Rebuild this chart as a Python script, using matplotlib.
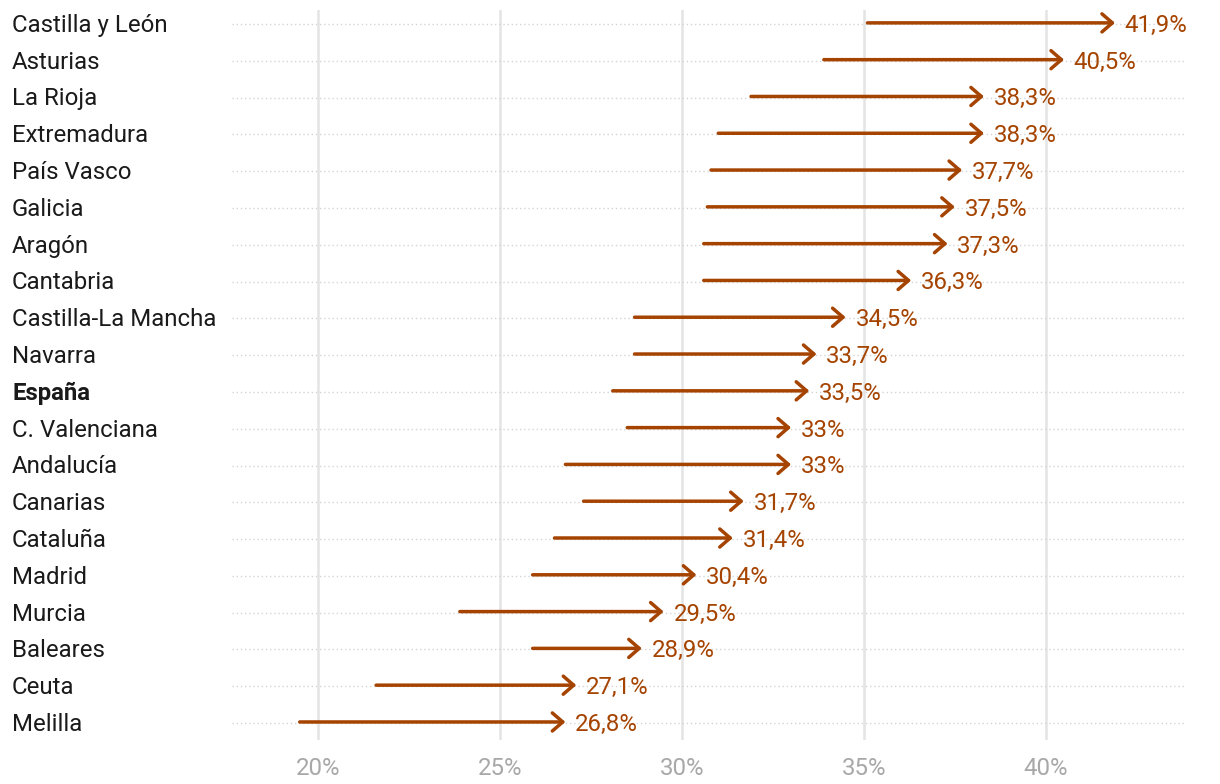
import matplotlib
matplotlib.use("Agg")
import matplotlib.pyplot as plt
from matplotlib.transforms import blended_transform_factory

plt.rcParams["font.family"] = ["Roboto", "DejaVu Sans"]

regions = [
    "Castilla y León", "Asturias", "La Rioja", "Extremadura", "País Vasco",
    "Galicia", "Aragón", "Cantabria", "Castilla-La Mancha", "Navarra",
    "España", "C. Valenciana", "Andalucía", "Canarias", "Cataluña",
    "Madrid", "Murcia", "Baleares", "Ceuta", "Melilla",
]
start = [35.1, 33.9, 31.9, 31.0, 30.8, 30.7, 30.6, 30.6, 28.7, 28.7,
         28.1, 28.5, 26.8, 27.3, 26.5, 25.9, 23.9, 25.9, 21.6, 19.5]
end = [41.9, 40.5, 38.3, 38.3, 37.7, 37.5, 37.3, 36.3, 34.5, 33.7,
       33.5, 33.0, 33.0, 31.7, 31.4, 30.4, 29.5, 28.9, 27.1, 26.8]
xticks = [20, 25, 30, 35, 40]

ARROW = "#a54300"
INK = "#1a1a1a"
TICK = "#a8a8a8"
GRID = "#e4e4e4"
DOT = "#d4d4d4"
FS = 17.3

fig = plt.figure(figsize=(12.2, 7.84), dpi=100)
ax = fig.add_axes([232 / 1220, 1 - 740 / 784, (1186 - 232) / 1220, (740 - 10) / 784])

n = len(regions)
ax.set_xlim(17.64, 43.85)
ax.set_ylim(n - 1 + 0.49, -0.35)

for x in xticks:
    ax.axvline(x, color=GRID, lw=1.8, zorder=0)
for i in range(n):
    ax.axhline(i + 0.03, color=DOT, lw=1.0, ls=(0, (1, 2)), zorder=1)

def fmt(v):
    s = f"{v:.1f}".rstrip("0").rstrip(".")
    return s.replace(".", ",") + "%"

for i, (a, b) in enumerate(zip(start, end)):
    ax.annotate(
        "", xy=(b, i), xytext=(a, i),
        arrowprops=dict(arrowstyle="->,head_length=0.75,head_width=0.65",
                        mutation_scale=10, color=ARROW, lw=2.5,
                        shrinkA=0, shrinkB=0, capstyle="round"),
        zorder=3,
    )
    ax.annotate(fmt(b), xy=(b, i), xytext=(7, 0), textcoords="offset points",
                ha="left", va="center_baseline", color=ARROW, fontsize=FS)

trans = blended_transform_factory(fig.transFigure, ax.transData)
for i, r in enumerate(regions):
    ax.text(12 / 1220, i, r, transform=trans, ha="left", va="center_baseline",
            color=INK, fontsize=FS,
            fontweight="bold" if r == "España" else "normal")

ax.set_yticks([])
ax.set_xticks(xticks)
ax.set_xticklabels([f"{x}%" for x in xticks])
ax.tick_params(axis="x", length=0, pad=12, labelcolor=TICK, labelsize=FS)
for s in ax.spines.values():
    s.set_visible(False)

fig.savefig("out.png", dpi=100)
